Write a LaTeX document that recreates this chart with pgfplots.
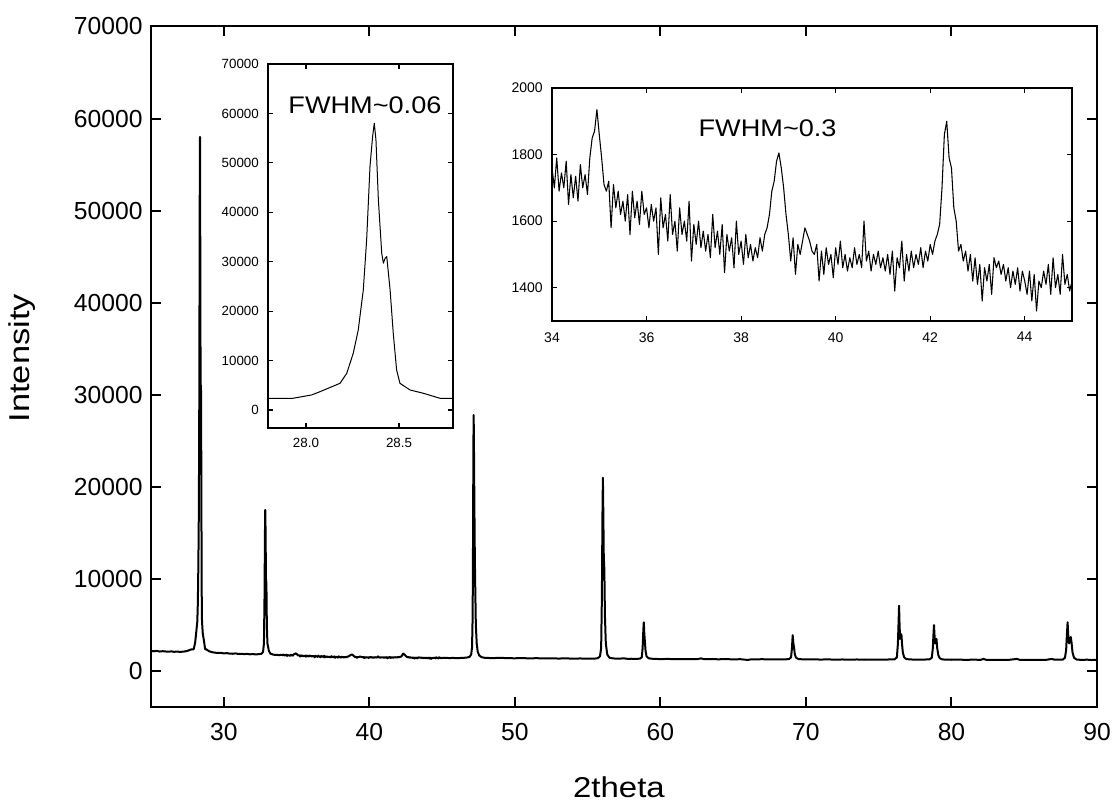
\documentclass[border=0pt]{standalone}
\usepackage{fontspec}
\setmainfont{Liberation Sans}
\usepackage{graphicx}
\usepackage{pgfplots}
\usepackage{pgfplotstable}
\pgfplotsset{compat=1.18}

% XRD pattern, values
\pgfplotstableread{
x y
25.0 2180
25.2 2150
25.4 2200
25.6 2120
25.8 2160
26.0 2130
26.2 2100
26.4 2140
26.6 2090
26.8 2120
27.0 2080
27.2 2110
27.4 2150
27.6 2250
27.797 2370
27.93 2370
28.03 3040
28.075 3700
28.183 5400
28.219 7420
28.254 11470
28.281 16200
28.308 24290
28.326 34400
28.344 49250
28.358 55320
28.367 58000
28.376 54660
28.389 42510
28.407 31720
28.416 29700
28.425 30700
28.434 31040
28.452 24290
28.469 15520
28.487 8100
28.505 5400
28.559 4050
28.631 3380
28.72 2370
28.79 2370
29.0 2150
29.2 2050
29.4 2000
29.6 1960
29.8 1990
30.0 1920
30.2 1950
30.4 1900
30.6 1880
30.8 1920
31.0 1860
31.2 1880
31.4 1840
31.6 1870
31.8 1820
32.0 1850
32.2 1810
32.4 1840
32.6 1880
32.7 2100
32.76 3000
32.8 8000
32.83 15000
32.85 17500
32.87 15500
32.9 10000
32.93 9500
32.96 5000
33.0 3000
33.1 2200
33.2 1900
33.4 1780
33.6 1760
33.8 1740
34.00 1760
34.05 1700
34.10 1790
34.15 1690
34.20 1745
34.25 1700
34.30 1780
34.35 1650
34.40 1740
34.45 1670
34.50 1735
34.55 1660
34.60 1770
34.65 1700
34.70 1740
34.75 1680
34.80 1790
34.85 1850
34.90 1870
34.95 1935
35.00 1860
35.05 1790
35.10 1710
35.15 1690
35.20 1720
35.25 1580
35.30 1710
35.35 1640
35.40 1690
35.45 1620
35.50 1660
35.55 1600
35.60 1680
35.65 1560
35.70 1690
35.75 1610
35.80 1660
35.85 1590
35.90 1690
35.95 1620
36.00 1640
36.05 1580
36.10 1650
36.15 1600
36.20 1640
36.25 1500
36.30 1670
36.35 1580
36.40 1620
36.45 1540
36.50 1680
36.55 1560
36.60 1600
36.65 1510
36.70 1640
36.75 1560
36.80 1600
36.85 1540
36.90 1660
36.95 1480
37.00 1590
37.05 1530
37.10 1600
37.15 1520
37.20 1570
37.25 1510
37.30 1560
37.35 1490
37.40 1620
37.45 1520
37.50 1570
37.55 1500
37.60 1590
37.65 1445
37.70 1560
37.75 1510
37.80 1550
37.85 1460
37.90 1600
37.95 1500
38.00 1540
38.05 1470
38.10 1560
38.15 1490
38.20 1530
38.25 1480
38.30 1520
38.35 1490
38.40 1550
38.45 1510
38.50 1560
38.55 1580
38.60 1620
38.65 1690
38.70 1720
38.75 1780
38.80 1805
38.85 1760
38.90 1700
38.95 1620
39.00 1560
39.05 1480
39.10 1550
39.15 1440
39.20 1530
39.25 1500
39.30 1540
39.35 1580
39.40 1560
39.45 1540
39.50 1510
39.55 1500
39.60 1530
39.65 1420
39.70 1510
39.75 1440
39.80 1520
39.85 1470
39.90 1500
39.95 1430
40.00 1520
40.05 1470
40.10 1540
40.15 1460
40.20 1500
40.25 1450
40.30 1490
40.35 1460
40.40 1520
40.45 1470
40.50 1500
40.55 1460
40.60 1600
40.65 1480
40.70 1510
40.75 1450
40.80 1500
40.85 1470
40.90 1510
40.95 1460
41.00 1490
41.05 1450
41.10 1500
41.15 1440
41.20 1510
41.25 1390
41.30 1490
41.35 1460
41.40 1540
41.45 1420
41.50 1500
41.55 1450
41.60 1510
41.65 1460
41.70 1500
41.75 1470
41.80 1520
41.85 1460
41.90 1510
41.95 1480
42.00 1530
42.05 1500
42.10 1540
42.15 1560
42.20 1590
42.25 1700
42.30 1860
42.35 1900
42.40 1790
42.45 1760
42.50 1640
42.55 1600
42.60 1510
42.65 1530
42.70 1480
42.75 1510
42.80 1450
42.85 1500
42.90 1420
42.95 1490
43.00 1410
43.05 1470
43.10 1360
43.15 1460
43.20 1420
43.25 1470
43.30 1380
43.35 1490
43.40 1460
43.45 1480
43.50 1440
43.55 1470
43.60 1420
43.65 1460
43.70 1400
43.75 1450
43.80 1410
43.85 1460
43.90 1390
43.95 1450
44.00 1420
44.05 1380
44.10 1450
44.15 1360
44.20 1440
44.25 1330
44.30 1420
44.35 1400
44.40 1450
44.45 1410
44.50 1470
44.55 1380
44.60 1490
44.65 1400
44.70 1440
44.75 1380
44.80 1500
44.85 1410
44.90 1440
44.95 1390
45.00 1420
45.25 1440
45.5 1410
45.75 1430
46.0 1400
46.25 1420
46.5 1440
46.75 1480
46.9 1560
47.0 1800
47.06 2600
47.1 6000
47.13 15000
47.15 24000
47.17 27800
47.19 24500
47.22 18000
47.25 12500
47.28 9000
47.32 5000
47.38 3000
47.45 2100
47.55 1700
47.7 1520
47.9 1450
48.0 1430
48.5 1410
49.0 1440
49.5 1400
50.0 1390
50.5 1410
51.0 1380
51.5 1400
52.0 1370
52.5 1390
53.0 1360
53.5 1380
54.0 1350
54.5 1370
55.0 1340
55.5 1360
55.7 1400
55.85 1600
55.93 2500
55.98 8000
56.02 17000
56.05 21000
56.08 17000
56.11 12500
56.15 11000
56.19 6000
56.25 3000
56.35 1800
56.5 1450
56.75 1380
57.0 1340
57.5 1380
57.75 1330
58.0 1340
58.3 1320
58.6 1350
58.72 1500
58.78 2500
58.83 4500
58.86 5300
58.89 4200
58.93 3300
58.98 2200
59.05 1600
59.2 1380
59.5 1330
60.0 1300
60.5 1320
61.0 1290
61.5 1310
62.0 1300
62.5 1290
62.8 1380
63.0 1290
63.5 1300
64.0 1280
64.5 1300
65.0 1270
65.5 1290
66.0 1210
66.25 1280
66.5 1270
67.0 1290
67.5 1260
68.0 1280
68.5 1270
68.85 1300
68.98 1500
69.04 2500
69.09 3900
69.13 3100
69.18 2600
69.24 1800
69.32 1450
69.5 1300
69.75 1280
70.0 1260
70.5 1280
71.0 1250
71.5 1270
72.0 1240
72.5 1260
73.0 1240
73.5 1260
74.0 1230
74.5 1250
75.0 1240
75.5 1250
75.9 1270
76.1 1280
76.25 1500
76.32 3000
76.37 5500
76.4 7100
76.43 5200
76.47 3500
76.52 3800
76.56 4000
76.6 3000
76.66 2000
76.75 1500
76.9 1300
77.25 1260
77.5 1240
78.0 1250
78.3 1260
78.5 1280
78.65 1450
78.72 2500
78.77 4200
78.8 5000
78.83 4000
78.88 3000
78.93 3300
78.97 3500
79.02 2500
79.1 1700
79.2 1400
79.35 1280
79.5 1250
80.0 1230
80.5 1240
81.0 1220
81.5 1240
82.0 1220
82.2 1320
82.4 1220
83.0 1230
83.5 1210
84.0 1230
84.5 1320
84.7 1220
85.0 1210
85.5 1230
86.0 1210
86.5 1220
86.9 1320
87.1 1230
87.4 1240
87.65 1250
87.8 1450
87.88 2300
87.94 4200
87.98 5300
88.02 4000
88.08 3000
88.14 3400
88.2 3700
88.25 3100
88.32 2000
88.42 1450
88.6 1250
88.8 1230
89.0 1210
89.3 1240
89.6 1200
90.0 1220
}\xrd

\begin{document}
\begin{tikzpicture}
\path[use as bounding box] (0,0) rectangle (835.5pt,603.75pt);

% main pattern
\begin{axis}[
  at={(113.25pt,73.5pt)}, anchor=south west,
  scale only axis, width=709.5pt, height=510.4pt,
  xmin=25, xmax=90, ymin=-3900, ymax=70000,
  xtick={30,40,...,90}, ytick={0,10000,...,70000},
  tick align=inside, major tick length=7.5pt, minor tick num=0,
  axis line style={line width=1.5pt},
  major tick style={line width=1.5pt, black},
  scaled ticks=false,
  /pgf/number format/1000 sep={},
  /pgf/number format/assume math mode=true,
  tick label style={font=\fontsize{18.5}{20}\selectfont},
  xticklabel shift=8.8pt, yticklabel shift=2.8pt,
  clip mode=individual,
]
\addplot[black, line width=1.5pt, line join=round] table[x=x,y=y]{\xrd};
\node[rotate=90, font=\fontsize{21.5}{24}\selectfont] at (axis description cs:-0.1364,0.5125) {\scalebox{1.2}[1]{Intensity}};
\node[font=\fontsize{21.5}{24}\selectfont] at (axis description cs:0.4947,-0.1175) {\scalebox{1.15}[1]{2theta}};
\end{axis}

% inset: strongest peak
\begin{axis}[
  at={(201pt,282.75pt)}, anchor=south west,
  scale only axis, width=138.75pt, height=273pt,
  axis background/.style={fill=white},
  xmin=27.796, xmax=28.79, ymin=-3640, ymax=70000,
  xtick={28,28.5}, xticklabels={28.0,28.5},
  ytick={0,10000,...,70000},
  tick align=inside, major tick length=3.75pt, minor tick num=0,
  axis line style={line width=0.9pt},
  major tick style={line width=0.8pt, black},
  scaled ticks=false,
  /pgf/number format/1000 sep={},
  /pgf/number format/assume math mode=true,
  tick label style={font=\fontsize{10}{12}\selectfont},
  xticklabel shift=4.2pt, yticklabel shift=3.4pt,
  clip mode=individual,
]
\addplot[black, line width=0.75pt, line join=round, restrict x to domain=27.7:28.9] table[x=x,y=y]{\xrd};
\node[font=\fontsize{18}{20}\selectfont] at (axis description cs:0.524,0.887) {\scalebox{1.13}[1]{FWHM\textasciitilde 0.06}};
\end{axis}

% inset: weak peaks
\begin{axis}[
  at={(414pt,363pt)}, anchor=south west,
  scale only axis, width=390pt, height=174.75pt,
  axis background/.style={fill=white},
  xmin=34, xmax=45, ymin=1300, ymax=2000,
  xtick={34,36,...,44}, ytick={1400,1600,...,2000},
  tick align=inside, major tick length=3.75pt, minor tick num=0,
  axis line style={line width=0.9pt},
  major tick style={line width=0.8pt, black},
  scaled ticks=false,
  /pgf/number format/1000 sep={},
  /pgf/number format/assume math mode=true,
  tick label style={font=\fontsize{10.5}{12}\selectfont},
  xticklabel shift=4.9pt, yticklabel shift=3.4pt,
  clip mode=individual,
]
\addplot[black, line width=0.8pt, line join=round, restrict x to domain=33.9:45.1] table[x=x,y=y]{\xrd};
\node[font=\fontsize{18}{20}\selectfont] at (axis description cs:0.4146,0.828) {\scalebox{1.13}[1]{FWHM\textasciitilde 0.3}};
\end{axis}
\end{tikzpicture}
\end{document}
